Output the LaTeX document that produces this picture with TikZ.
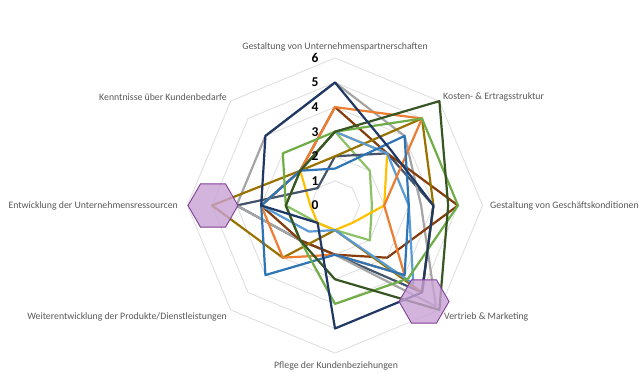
\documentclass[tikz,border=0pt]{standalone}
\usepackage{fontspec}
\setmainfont{Carlito}
\definecolor{labgray}{HTML}{595959}
\definecolor{gridc}{HTML}{DDDDDD}
\definecolor{navy}{HTML}{203864}
\definecolor{mblue}{HTML}{2E75B6}
\definecolor{lblue}{HTML}{5B9BD5}
\definecolor{sorange}{HTML}{ED7D31}
\definecolor{sgray}{HTML}{A5A5A5}
\definecolor{syellow}{HTML}{FFC000}
\definecolor{lgreen}{HTML}{70AD47}
\definecolor{dgreen}{HTML}{375623}
\definecolor{sbrown}{HTML}{843C0C}
\definecolor{solive}{HTML}{997300}
\definecolor{slate}{HTML}{44546A}
\definecolor{green2}{HTML}{8CC168}
\definecolor{hexfill}{HTML}{C9A2D4}
\definecolor{hexdraw}{HTML}{7F3F98}
\def\rad{24.6}
\newcommand\rseries[9]{\draw[serie,#1] (90:{\rad*#2}) -- (45:{\rad*#3}) -- (0:{\rad*#4}) -- (-45:{\rad*#5}) -- (-90:{\rad*#6}) -- (-135:{\rad*#7}) -- (180:{\rad*#8}) -- (135:{\rad*#9}) -- cycle;}
\begin{document}
\begin{tikzpicture}[x=1pt,y=1pt,
  serie/.style={line width=2.2pt, line join=round},
  gridline/.style={draw=gridc, line width=0.8pt},
  axlabel/.style={font=\fontsize{9.8}{11}\selectfont, text=labgray, inner sep=0pt},
  numlabel/.style={font=\fontsize{13.5}{15}\bfseries\selectfont, text=black, inner sep=0pt},
  hexmark/.style={fill=hexfill, fill opacity=0.8, draw=hexdraw, line width=0.9pt}]
\fill[white] (0,0) rectangle (639,372);
\useasboundingbox (0,0) rectangle (639,372);
\begin{scope}[shift={(335,166.5)}]
  \coordinate (c) at (0,0);
  \foreach \v in {1,...,6}{
    \draw[gridline] (90:{\rad*\v}) -- (45:{\rad*\v}) -- (0:{\rad*\v}) -- (-45:{\rad*\v}) -- (-90:{\rad*\v}) -- (-135:{\rad*\v}) -- (180:{\rad*\v}) -- (135:{\rad*\v}) -- cycle;
  }
  % series: A0 top, A1 NE, A2 E, A3 SE, A4 S, A5 SW, A6 W, A7 NW
  \rseries{green2}{3}{2}{1.5}{2}{1}{1}{2}{2}
  \rseries{syellow}{3}{3}{2}{1}{1}{1}{1}{2}
  \rseries{slate}{2}{3}{4}{5}{2}{2}{4}{1}
  \rseries{sgray}{5}{4}{3.5}{5.8}{2}{2}{4}{4}
  \rseries{sbrown}{4}{3}{5}{3}{2}{2}{3}{2}
  \rseries{solive}{2}{5}{4}{5}{1}{3}{5}{2}
  \rseries{lblue}{3}{3}{3}{4.5}{1}{1.5}{3}{2}
  \rseries{sorange}{4}{5}{2}{4}{2}{3}{3}{2}
  \rseries{mblue}{1.5}{4}{3}{4}{2}{4}{3}{2}
  \rseries{lgreen}{3}{5}{5}{4.2}{4}{2}{2}{3}
  \rseries{dgreen}{3}{6}{4.6}{6}{3}{2}{2}{2}
  \rseries{navy}{5}{3.2}{4}{5}{5}{1}{3}{4}
  % markers
  \draw[hexmark] (-122,0) ++(25,0) -- ++(120:25) -- ++(180:25) -- ++(240:25) -- ++(300:25) -- ++(0:25) -- cycle;
  \draw[hexmark] (89,-96) ++(25,0) -- ++(120:25) -- ++(180:25) -- ++(240:25) -- ++(300:25) -- ++(0:25) -- cycle;
  % value labels
  \foreach \v in {0,...,6}{
    \node[numlabel] (n\v) at (-20,{\rad*\v}) {\v};
  }
\end{scope}
\node[axlabel] (l0) at (335,325) {Gestaltung von Unternehmenspartnerschaften};
\node[axlabel, anchor=west] (l1) at (443,275) {Kosten- \& Ertragsstruktur};
\node[axlabel, anchor=west] (l2) at (490,166) {Gestaltung von Geschäftskonditionen};
\node[axlabel, anchor=west] (l3) at (444,55) {Vertrieb \& Marketing};
\node[axlabel] (l4) at (336,6) {Pflege der Kundenbeziehungen};
\node[axlabel, anchor=east] (l5) at (227,55) {Weiterentwicklung der Produkte/Dienstleistungen};
\node[axlabel, anchor=east] (l6) at (178,166) {Entwicklung der Unternehmensressourcen};
\node[axlabel, anchor=east] (l7) at (227,275) {Kenntnisse über Kundenbedarfe};
\end{tikzpicture}
\end{document}
